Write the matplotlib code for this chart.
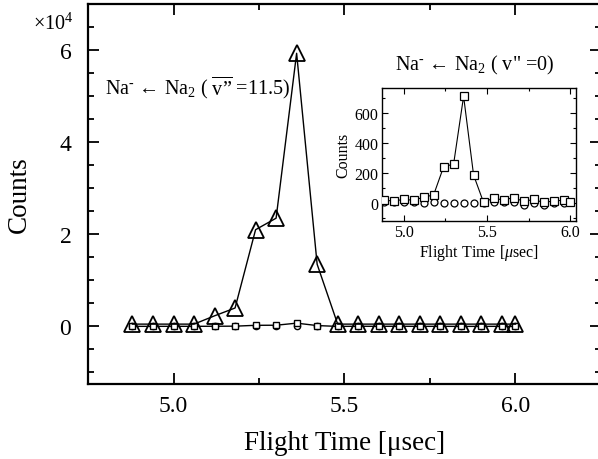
import matplotlib
matplotlib.use("Agg")
import matplotlib.pyplot as plt
from matplotlib.ticker import MultipleLocator, FixedLocator

plt.rcParams['font.family'] = ['Liberation Serif', 'DejaVu Serif']
plt.rcParams['mathtext.fontset'] = 'custom'
plt.rcParams['mathtext.rm'] = 'Liberation Serif'
plt.rcParams['mathtext.it'] = 'Liberation Serif:italic'

# flight time [usec]
tof = [4.88, 4.94, 5.00, 5.06, 5.12, 5.18, 5.24, 5.30, 5.36, 5.42,
       5.48, 5.54, 5.60, 5.66, 5.72, 5.78, 5.84, 5.90, 5.96, 6.00]
# Na- from hot Na2 (v''=11.5), counts x 1e4
hot = [0.05, 0.05, 0.05, 0.05, 0.23, 0.40, 2.10, 2.35, 5.93, 1.35,
       0.05, 0.05, 0.05, 0.05, 0.05, 0.05, 0.05, 0.05, 0.05, 0.05]
# Na- from cold Na2 (v''=0), counts
cold = [20, 15, 25, 20, 40, 55, 242, 260, 710, 187,
        5, 35, 20, 38, 12, 25, 5, 15, 20, 8]
# background, counts
bkg = [10, 5, 10, 5, 0, 5, 0, 0, 0, 0,
       0, 5, 10, 5, -10, 0, -10, 0, 0, 5]

W, H = 598, 460
fig = plt.figure(figsize=(W / 100, H / 100), dpi=100)

def px(x0, y0, x1, y1):
    return [x0 / W, 1 - y1 / H, (x1 - x0) / W, (y1 - y0) / H]

ax = fig.add_axes(px(88, 5, 601, 385))
ax.plot(tof, [b / 1e4 for b in bkg], 'o', ms=4.5, mfc='white', mec='black', mew=1.0, zorder=3)
ax.plot(tof, [c / 1e4 for c in cold], 's-', color='black', lw=1.0, ms=5, mfc='white', mec='black', mew=1.0, zorder=4)
ax.plot(tof, hot, '^-', color='black', lw=1.0, ms=11, mfc='none', mec='black', mew=1.3, zorder=5)

ax.set_xlim(4.75, 6.25)
ax.set_ylim(-1.25, 7.0)
ax.xaxis.set_major_locator(FixedLocator([5.0, 5.5, 6.0]))
ax.xaxis.set_minor_locator(FixedLocator([5.25, 5.75]))
ax.yaxis.set_major_locator(FixedLocator([0, 2, 4, 6]))
ax.yaxis.set_minor_locator(MultipleLocator(0.5))
ax.set_xticklabels(['5.0', '5.5', '6.0'])
ax.set_yticklabels(['0', '2', '4', '6'])
ax.tick_params(which='both', direction='in', top=True, right=True, width=1.3)
ax.tick_params(which='major', length=8, labelsize=17)
ax.tick_params(axis='y', which='major', pad=12)
ax.tick_params(axis='x', which='major', pad=8)
ax.tick_params(which='minor', length=4)
for s in ax.spines.values():
    s.set_linewidth(1.6)
ax.set_xlabel('Flight Time [\u03bcsec]', fontsize=19.5, labelpad=10)
ax.set_ylabel('Counts', fontsize=19.5, labelpad=20)

fig.text(33 / W, 1 - 24 / H, '\u00d710$^{4}$', fontsize=14.5, va='center', ha='left')
fig.text(105 / W, 1 - 88 / H, 'Na$^{\\text{-}}$ \u2190 Na$_{2}$ ( $\\overline{\\mathrm{v\u201d}}$ =11.5)',
         fontsize=14.5, va='center', ha='left')
fig.text(475 / W, 1 - 65 / H, 'Na$^{\\text{-}}$ \u2190 Na$_{2}$ ( v" =0)',
         fontsize=14.5, va='center', ha='center')

# inset: cold Na2
ins = fig.add_axes(px(382, 89, 576, 222))
ins.plot(tof, bkg, 'o', ms=5, mfc='white', mec='black', mew=0.9, zorder=3)
ins.plot(tof, cold, 's-', color='black', lw=0.8, ms=5.5, mfc='white', mec='black', mew=0.9, zorder=4)
ins.set_xlim(4.87, 6.035)
ins.set_ylim(-118, 765)
ins.xaxis.set_major_locator(FixedLocator([5.0, 5.5, 6.0]))
ins.xaxis.set_minor_locator(FixedLocator([5.25, 5.75]))
ins.set_xticklabels(['5.0', '5.5', '6.0'])
ins.yaxis.set_major_locator(FixedLocator([0, 200, 400, 600]))
ins.yaxis.set_minor_locator(MultipleLocator(100))
ins.tick_params(which='both', direction='in', top=True, right=True, width=0.8)
ins.tick_params(which='major', length=4, labelsize=11.5, pad=2.5)
ins.tick_params(which='minor', length=2)
for s in ins.spines.values():
    s.set_linewidth(1.0)
ins.set_xlabel('Flight Time [$\\mu$sec]', fontsize=11.5, labelpad=1)
ins.set_ylabel('Counts', fontsize=11.5, labelpad=2)

fig.savefig('out.png', dpi=100)
